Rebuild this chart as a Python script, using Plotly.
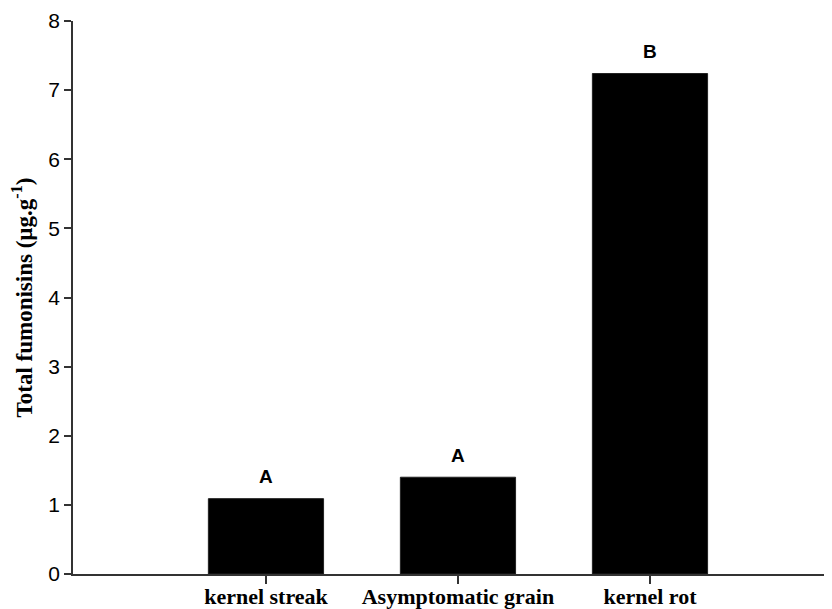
import plotly.graph_objects as go

categories = ["kernel streak", "Asymptomatic grain", "kernel rot"]
fumonisins = [1.09, 1.40, 7.24]
letters = ["A", "A", "B"]
y_ticks = [0, 1, 2, 3, 4, 5, 6, 7, 8]

x_idx = list(range(len(categories)))

fig = go.Figure()
fig.add_trace(go.Bar(
    x=x_idx, y=fumonisins, width=0.6,
    marker=dict(color="black", line=dict(color="#222", width=1)),
    showlegend=False, hoverinfo="skip",
))

for xi, v, t in zip(x_idx, fumonisins, letters):
    fig.add_annotation(x=xi, y=v, text=t, showarrow=False, yshift=22,
                       yanchor="middle",
                       font=dict(family="Liberation Sans, Arial", size=19, color="black", weight="bold"))

# page body has an 8px margin, so the figure is sized/offset to fit the 832x609 window
fig.update_layout(
    width=824, height=601,
    margin=dict(l=65, r=0, t=13, b=35),
    plot_bgcolor="white", paper_bgcolor="white",
    xaxis=dict(
        range=[-1.005, 2.948], tickmode="array", tickvals=x_idx, ticktext=categories,
        showline=True, linecolor="#333", linewidth=1.5, showgrid=False, zeroline=False,
        ticks="outside", ticklen=8, tickwidth=1.5, tickcolor="#333",
        ticklabelstandoff=-6,
        tickfont=dict(family="Liberation Serif, Times New Roman", size=22, color="black", weight="bold"),
        automargin=False,
    ),
    yaxis=dict(
        range=[0, 8], tickmode="array", tickvals=y_ticks,
        showline=True, linecolor="#333", linewidth=1.5, showgrid=False, zeroline=False,
        ticks="outside", ticklen=7, tickwidth=1.5, tickcolor="#333",
        tickfont=dict(family="Liberation Sans, Arial", size=21, color="black"),
        automargin=False,
        title=dict(text="Total fumonisins (µg.g<sup>-1</sup>)", standoff=19,
                   font=dict(family="Liberation Serif, Times New Roman", size=23, color="black", weight="bold")),
    ),
)

fig.write_html("out.html")
